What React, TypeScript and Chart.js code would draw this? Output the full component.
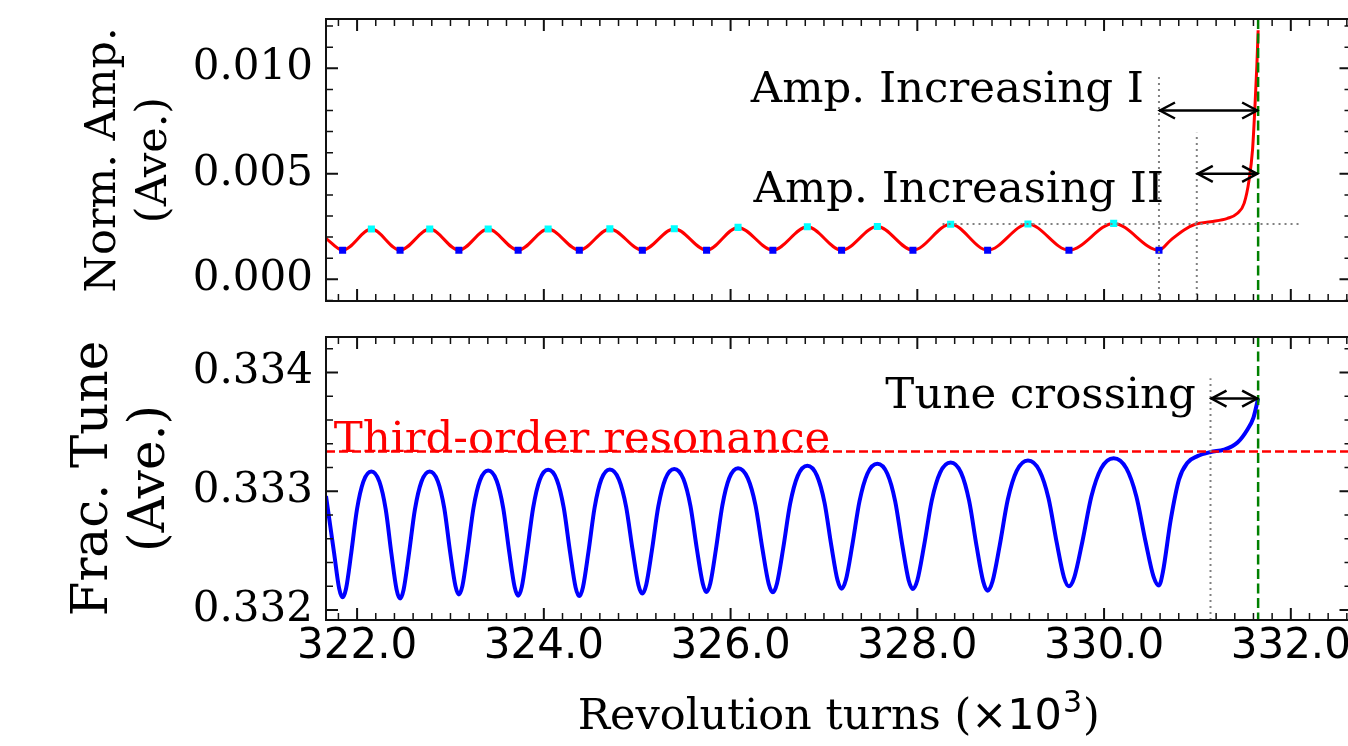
import React, { useEffect, useRef } from "react";
import { Chart, registerables } from "chart.js";

Chart.register(...registerables);

const SERIF = "'DejaVu Serif', serif";
const SANS = "'DejaVu Sans', sans-serif";

// ---------- data (turns in units of 10^3) ----------
const minTurns = [321.845, 322.46, 323.09, 323.725, 324.38, 325.055, 325.743, 326.453, 327.189, 327.953, 328.753, 329.624, 330.588];
const maxTurns = [322.153, 322.778, 323.404, 324.046, 324.707, 325.397, 326.08, 326.822, 327.572, 328.357, 329.185, 330.103];

// normalized amplitude (top panel)
const ampAtMin = [0.00138, 0.00138, 0.00138, 0.00138, 0.00138, 0.00138, 0.00138, 0.00138, 0.00138, 0.00138, 0.00138, 0.00138, 0.00138];
const ampAtMax = [0.00238, 0.00238, 0.00238, 0.00238, 0.00239, 0.0024, 0.00246, 0.00249, 0.0025, 0.00261, 0.00262, 0.00265];
const ampHeadTurns = [321.667];
const ampHeadValues = [0.00194];
const ampTailTurns = [330.714, 330.857, 330.982, 331.142, 331.322, 331.429, 331.5, 331.553, 331.59, 331.614, 331.636, 331.65];
const ampTailValues = [0.00186, 0.00234, 0.00262, 0.00273, 0.00289, 0.00313, 0.0036, 0.0047, 0.00613, 0.008, 0.01008, 0.0118];

// fractional tune (bottom panel)
const tuneTurns = [
  321.667, 321.754, 321.808, 321.845, 321.882, 321.937, 321.999, 322.067, 322.153,
  322.239, 322.307, 322.368, 322.423, 322.46, 322.498, 322.555, 322.619, 322.689, 322.778,
  322.865, 322.934, 322.996, 323.053, 323.09, 323.128, 323.184, 323.247, 323.316, 323.404,
  323.494, 323.565, 323.629, 323.687, 323.725, 323.764, 323.821, 323.886, 323.956, 324.046,
  324.14, 324.213, 324.28, 324.34, 324.38, 324.419, 324.478, 324.544, 324.615, 324.707,
  324.804, 324.881, 324.951, 325.013, 325.055, 325.096, 325.158, 325.226, 325.301, 325.397,
  325.494, 325.57, 325.639, 325.702, 325.743, 325.783, 325.844, 325.912, 325.986, 326.08,
  326.184, 326.267, 326.341, 326.408, 326.453, 326.497, 326.564, 326.638, 326.719, 326.822,
  326.925, 327.006, 327.079, 327.145, 327.189, 327.235, 327.304, 327.381, 327.465, 327.572,
  327.679, 327.763, 327.839, 327.907, 327.953, 328.001, 328.074, 328.155, 328.244, 328.357,
  328.468, 328.555, 328.634, 328.706, 328.753, 328.805, 328.883, 328.969, 329.064, 329.185,
  329.308, 329.405, 329.492, 329.571, 329.624, 329.681, 329.768, 329.864, 329.969, 330.103,
  330.239, 330.346, 330.443, 330.53, 330.588, 330.63, 330.714, 330.803, 330.893, 331.0,
  331.142, 331.285, 331.429, 331.536, 331.6, 331.65,
];
const tuneValues = [
  0.33296, 0.332478, 0.332181, 0.332107, 0.332181, 0.332478, 0.332848, 0.333081, 0.333166,
  0.33308, 0.332845, 0.332471, 0.332171, 0.332096, 0.332171, 0.332471, 0.332845, 0.33308, 0.333166,
  0.333083, 0.332855, 0.332493, 0.332203, 0.33213, 0.332203, 0.332495, 0.332861, 0.33309, 0.333174,
  0.33309, 0.332858, 0.33249, 0.332195, 0.332121, 0.332195, 0.332492, 0.332862, 0.333095, 0.33318,
  0.333095, 0.332861, 0.332489, 0.332191, 0.332117, 0.332192, 0.33249, 0.332863, 0.333098, 0.333183,
  0.333099, 0.33287, 0.332504, 0.332211, 0.332138, 0.332211, 0.332505, 0.332872, 0.333103, 0.333187,
  0.333104, 0.332876, 0.332514, 0.332224, 0.332151, 0.332224, 0.332516, 0.332881, 0.333111, 0.333194,
  0.33311, 0.332881, 0.332515, 0.332222, 0.332149, 0.332224, 0.332522, 0.332895, 0.333129, 0.333214,
  0.333131, 0.332904, 0.332542, 0.332252, 0.33218, 0.332254, 0.332548, 0.332916, 0.333147, 0.333231,
  0.333147, 0.332915, 0.332546, 0.332251, 0.332177, 0.332252, 0.33255, 0.332923, 0.333157, 0.333242,
  0.333156, 0.332918, 0.332541, 0.332239, 0.332163, 0.33224, 0.332547, 0.33293, 0.333171, 0.333259,
  0.333174, 0.332941, 0.332571, 0.332274, 0.3322, 0.332275, 0.332577, 0.332955, 0.333192, 0.333278,
  0.333192, 0.332956, 0.332581, 0.332281, 0.332206, 0.33232, 0.33276, 0.3331, 0.33324, 0.333295,
  0.33333, 0.33335, 0.33341, 0.33352, 0.33362, 0.33378,
];

// ticks
const xTickValues = [322, 324, 326, 328, 330, 332];
const ampTickValues = [0, 0.005, 0.01];
const tuneTickValues = [0.332, 0.333, 0.334];
const X_MINOR = 0.2;
const AMP_MINOR = 0.001;
const TUNE_MINOR = 0.0002;

// axis ranges
const X_RANGE = [321.667, 332.65];
const AMP_RANGE = [-0.001028, 0.012336];
const TUNE_RANGE = [0.331916, 0.334298];

// annotations (data coordinates)
const RESONANCE = 1 / 3;
const CROSSING_TURN = 331.65;
const AMP_I_START = 330.588;
const AMP_I_TOP = 0.00963;
const AMP_I_ARROW = 0.008;
const AMP_II_START = 330.993;
const AMP_II_TOP = 0.00695;
const AMP_II_ARROW = 0.005;
const AMP_LEVEL = 0.00262;
const AMP_LEVEL_SPAN = [328.27, 332.09];
const TUNE_START = 331.14;
const TUNE_TOP = 0.33395;
const TUNE_ARROW = 0.33378;
const LABEL_AMP_I = { text: "Amp. Increasing I", x: 330.428, y: 0.00842 };
const LABEL_AMP_II = { text: "Amp. Increasing II", x: 330.642, y: 0.00368 };
const LABEL_TUNE = { text: "Tune crossing", x: 330.982, y: 0.3337 };
const LABEL_RES = { text: "Third-order resonance", x: 321.75, y: RESONANCE };
const X_TITLE = ["Revolution turns (", "×10", "3", ")"];

// ---------- layout ----------
const CANVAS_W = 1362;
const PLOT_LEFT = 326;
const PLOT_RIGHT = 1351.5;
const TOP_H = 330;
const BOT_TOP = 310;
const BOT_H = 436;
const ANNO_FONT = 43.5;

function minorValues(min: number, max: number, step: number, majors: number[]) {
  const out: number[] = [];
  const s = Math.ceil(min / step - 1e-9);
  const e = Math.floor(max / step + 1e-9);
  for (let k = s; k <= e; k++) {
    const v = k * step;
    if (majors.some((m) => Math.abs(m - v) < step * 0.01)) continue;
    out.push(v);
  }
  return out;
}

function framePlugin(xMajors: number[], xMinor: number, yMajors: number[], yMinor: number) {
  return {
    id: "frame",
    afterDraw(chart: any) {
      const { ctx, chartArea: a, scales } = chart;
      const xs = scales.x;
      const ys = scales.y;
      ctx.save();
      ctx.strokeStyle = "#111";
      const drawX = (vals: number[], len: number, lw: number) => {
        ctx.lineWidth = lw;
        ctx.beginPath();
        vals.forEach((v) => {
          const p = xs.getPixelForValue(v);
          ctx.moveTo(p, a.bottom);
          ctx.lineTo(p, a.bottom - len);
          ctx.moveTo(p, a.top);
          ctx.lineTo(p, a.top + len);
        });
        ctx.stroke();
      };
      const drawY = (vals: number[], len: number, lw: number) => {
        ctx.lineWidth = lw;
        ctx.beginPath();
        vals.forEach((v) => {
          const p = ys.getPixelForValue(v);
          ctx.moveTo(a.left, p);
          ctx.lineTo(a.left + len, p);
          ctx.moveTo(a.right, p);
          ctx.lineTo(a.right - len, p);
        });
        ctx.stroke();
      };
      drawX(minorValues(xs.min, xs.max, xMinor, xMajors), 7, 1.5);
      drawY(minorValues(ys.min, ys.max, yMinor, yMajors), 7, 1.5);
      drawX(xMajors, 12, 2);
      drawY(yMajors, 12, 2);
      ctx.lineWidth = 2;
      ctx.strokeRect(a.left, a.top, a.right - a.left, a.bottom - a.top);
      ctx.restore();
    },
  };
}

function seg(ctx: any, x1: number, y1: number, x2: number, y2: number) {
  ctx.beginPath();
  ctx.moveTo(x1, y1);
  ctx.lineTo(x2, y2);
  ctx.stroke();
}

function dblArrow(ctx: any, x1: number, x2: number, y: number) {
  const hl = 16;
  const hw = 8;
  ctx.save();
  ctx.setLineDash([]);
  ctx.strokeStyle = "#000";
  ctx.lineWidth = 2.5;
  ctx.lineJoin = "miter";
  seg(ctx, x1, y, x2, y);
  ctx.beginPath();
  ctx.moveTo(x1 + hl, y - hw);
  ctx.lineTo(x1 + 1, y);
  ctx.lineTo(x1 + hl, y + hw);
  ctx.stroke();
  ctx.beginPath();
  ctx.moveTo(x2 - hl, y - hw);
  ctx.lineTo(x2 - 1, y);
  ctx.lineTo(x2 - hl, y + hw);
  ctx.stroke();
  ctx.restore();
}

const topAnnotations = {
  id: "topAnno",
  afterDatasetsDraw(chart: any) {
    const { ctx, chartArea: a, scales } = chart;
    const X = (v: number) => scales.x.getPixelForValue(v);
    const Y = (v: number) => scales.y.getPixelForValue(v);
    ctx.save();
    ctx.beginPath();
    ctx.rect(a.left, a.top, a.right - a.left, a.bottom - a.top);
    ctx.clip();
    ctx.strokeStyle = "#808080";
    ctx.lineWidth = 2;
    ctx.setLineDash([2, 4]);
    seg(ctx, X(AMP_I_START), a.bottom, X(AMP_I_START), Y(AMP_I_TOP));
    seg(ctx, X(AMP_II_START), a.bottom, X(AMP_II_START), Y(AMP_II_TOP));
    seg(ctx, X(AMP_LEVEL_SPAN[0]), Y(AMP_LEVEL), X(AMP_LEVEL_SPAN[1]), Y(AMP_LEVEL));
    ctx.strokeStyle = "#008000";
    ctx.lineWidth = 2.5;
    ctx.setLineDash([10, 4.5]);
    seg(ctx, X(CROSSING_TURN), a.top, X(CROSSING_TURN), a.bottom);
    dblArrow(ctx, X(AMP_I_START), X(CROSSING_TURN), Y(AMP_I_ARROW));
    dblArrow(ctx, X(AMP_II_START), X(CROSSING_TURN), Y(AMP_II_ARROW));
    ctx.setLineDash([]);
    ctx.fillStyle = "#000";
    ctx.font = `${ANNO_FONT}px ${SERIF}`;
    ctx.textAlign = "right";
    ctx.textBaseline = "alphabetic";
    ctx.fillText(LABEL_AMP_I.text, X(LABEL_AMP_I.x), Y(LABEL_AMP_I.y));
    ctx.fillText(LABEL_AMP_II.text, X(LABEL_AMP_II.x), Y(LABEL_AMP_II.y));
    ctx.restore();
  },
};

const bottomAnnotations = {
  id: "botAnno",
  afterDatasetsDraw(chart: any) {
    const { ctx, chartArea: a, scales } = chart;
    const X = (v: number) => scales.x.getPixelForValue(v);
    const Y = (v: number) => scales.y.getPixelForValue(v);
    ctx.save();
    ctx.beginPath();
    ctx.rect(a.left, a.top, a.right - a.left, a.bottom - a.top);
    ctx.clip();
    ctx.strokeStyle = "#ff0000";
    ctx.lineWidth = 2.5;
    ctx.setLineDash([9, 4]);
    seg(ctx, a.left, Y(RESONANCE), a.right, Y(RESONANCE));
    ctx.strokeStyle = "#808080";
    ctx.lineWidth = 2;
    ctx.setLineDash([2, 4]);
    seg(ctx, X(TUNE_START), a.bottom, X(TUNE_START), Y(TUNE_TOP));
    ctx.strokeStyle = "#008000";
    ctx.lineWidth = 2.5;
    ctx.setLineDash([10, 4.5]);
    seg(ctx, X(CROSSING_TURN), a.top, X(CROSSING_TURN), a.bottom);
    dblArrow(ctx, X(TUNE_START), X(CROSSING_TURN), Y(TUNE_ARROW));
    ctx.setLineDash([]);
    ctx.font = `${ANNO_FONT}px ${SERIF}`;
    ctx.textBaseline = "alphabetic";
    ctx.fillStyle = "#000";
    ctx.textAlign = "right";
    ctx.fillText(LABEL_TUNE.text, X(LABEL_TUNE.x), Y(LABEL_TUNE.y));
    ctx.fillStyle = "#ff0000";
    ctx.textAlign = "left";
    ctx.fillText(LABEL_RES.text, X(LABEL_RES.x), Y(LABEL_RES.y));
    ctx.restore();

    // x-axis title with math part in sans font
    const a2 = chart.chartArea;
    ctx.save();
    ctx.fillStyle = "#000";
    ctx.textBaseline = "alphabetic";
    ctx.textAlign = "left";
    const fSerif = `43px ${SERIF}`;
    const fSans = `43px ${SANS}`;
    const fSup = `30px ${SANS}`;
    ctx.font = fSerif;
    const w0 = ctx.measureText(X_TITLE[0]).width;
    const w3 = ctx.measureText(X_TITLE[3]).width;
    ctx.font = fSans;
    const w1 = ctx.measureText(X_TITLE[1]).width;
    ctx.font = fSup;
    const w2 = ctx.measureText(X_TITLE[2]).width + 2;
    const total = w0 + w1 + w2 + w3;
    let x = (a2.left + a2.right) / 2 - total / 2;
    const base = chart.height - 17;
    ctx.font = fSerif;
    ctx.fillText(X_TITLE[0], x, base);
    x += w0;
    ctx.font = fSans;
    ctx.fillText(X_TITLE[1], x, base);
    x += w1 + 1;
    ctx.font = fSup;
    ctx.fillText(X_TITLE[2], x, base - 17);
    x += w2 - 1;
    ctx.font = fSerif;
    ctx.fillText(X_TITLE[3], x, base);
    ctx.restore();
  },
};

const setTicks = (vals: number[]) => (scale: any) => {
  scale.ticks = vals.map((v) => ({ value: v }));
};

const zeroPad = (s: any) => {
  s.paddingTop = 0;
  s.paddingBottom = 0;
  s.paddingLeft = 0;
  s.paddingRight = 0;
};

function baseX(showLabels: boolean, height: number) {
  return {
    type: "linear",
    min: X_RANGE[0],
    max: X_RANGE[1],
    grid: { display: false, drawTicks: false },
    border: { display: false },
    afterBuildTicks: setTicks(xTickValues),
    afterFit: (s: any) => {
      s.height = height;
      zeroPad(s);
    },
    ticks: {
      display: showLabels,
      autoSkip: false,
      maxRotation: 0,
      minRotation: 0,
      padding: 2,
      color: "#000",
      font: { family: SANS, size: 42, lineHeight: 1.2 },
      callback: (v: any) => Number(v).toFixed(1),
    },
    title: { display: false, text: X_TITLE.join("") },
  };
}

function yAxis(range: number[], ticks: number[], title: string[], size: number, lh: number, titlePad: number) {
  return {
    type: "linear",
    min: range[0],
    max: range[1],
    grid: { display: false, drawTicks: false },
    border: { display: false },
    afterBuildTicks: setTicks(ticks),
    afterFit: (s: any) => {
      s.width = PLOT_LEFT;
      zeroPad(s);
    },
    ticks: {
      padding: 13,
      color: "#000",
      font: { family: SERIF, size: 42 },
      callback: (v: any) => Number(v).toFixed(3),
    },
    title: {
      display: true,
      text: title,
      color: "#000",
      font: { family: SERIF, size, lineHeight: lh },
      padding: { top: titlePad, bottom: 0 },
    },
  };
}

export default function App() {
  const topRef = useRef<HTMLCanvasElement>(null);
  const botRef = useRef<HTMLCanvasElement>(null);

  useEffect(() => {
    const ampLine: any[] = [{ x: ampHeadTurns[0], y: ampHeadValues[0] }];
    minTurns.forEach((t, i) => {
      ampLine.push({ x: t, y: ampAtMin[i] });
      if (i < maxTurns.length) ampLine.push({ x: maxTurns[i], y: ampAtMax[i] });
    });
    ampTailTurns.forEach((t, i) => ampLine.push({ x: t, y: ampTailValues[i] }));

    const top = new Chart(topRef.current as any, {
      type: "line",
      data: {
        datasets: [
          {
            data: minTurns.map((t, i) => ({ x: t, y: ampAtMin[i] })),
            showLine: false,
            pointStyle: "rect",
            pointRadius: 5,
            pointBackgroundColor: "#0000ff",
            pointBorderWidth: 0,
            borderColor: "#0000ff",
          },
          {
            data: maxTurns.map((t, i) => ({ x: t, y: ampAtMax[i] })),
            showLine: false,
            pointStyle: "rect",
            pointRadius: 5,
            pointBackgroundColor: "#00ffff",
            pointBorderWidth: 0,
            borderColor: "#00ffff",
          },
          {
            data: ampLine,
            borderColor: "#ff0000",
            borderWidth: 3,
            pointRadius: 0,
            fill: false,
            cubicInterpolationMode: "monotone",
          },
        ],
      },
      options: {
        responsive: false,
        animation: false,
        devicePixelRatio: 1,
        layout: { padding: { left: 0, right: CANVAS_W - PLOT_RIGHT, top: 19, bottom: 0 } },
        plugins: { legend: { display: false }, tooltip: { enabled: false } },
        scales: {
          x: baseX(false, TOP_H - 301),
          y: yAxis(AMP_RANGE, ampTickValues, ["Norm. Amp.", "(Ave.)"], 43, 1.2, 77.6),
        },
      } as any,
      plugins: [topAnnotations, framePlugin(xTickValues, X_MINOR, ampTickValues, AMP_MINOR)],
    } as any);

    const bottom = new Chart(botRef.current as any, {
      type: "line",
      data: {
        datasets: [
          {
            data: tuneTurns.map((t, i) => ({ x: t, y: tuneValues[i] })),
            borderColor: "#0000ff",
            borderWidth: 4,
            pointRadius: 0,
            fill: false,
            cubicInterpolationMode: "monotone",
          },
        ],
      },
      options: {
        responsive: false,
        animation: false,
        devicePixelRatio: 1,
        layout: { padding: { left: 0, right: CANVAS_W - PLOT_RIGHT, top: 27, bottom: 0 } },
        plugins: { legend: { display: false }, tooltip: { enabled: false } },
        scales: {
          x: baseX(true, BOT_H - 310),
          y: yAxis(TUNE_RANGE, tuneTickValues, ["Frac. Tune", "(Ave.)"], 50, 1.13, 66),
        },
      } as any,
      plugins: [bottomAnnotations, framePlugin(xTickValues, X_MINOR, tuneTickValues, TUNE_MINOR)],
    } as any);

    return () => {
      top.destroy();
      bottom.destroy();
    };
  }, []);

  return (
    <div
      style={{
        position: "absolute",
        left: 0,
        top: 0,
        width: 1348,
        height: 746,
        overflow: "hidden",
        background: "#ffffff",
      }}
    >
      <canvas
        ref={topRef}
        width={CANVAS_W}
        height={TOP_H}
        style={{ position: "absolute", left: 0, top: 0, width: CANVAS_W, height: TOP_H }}
      />
      <canvas
        ref={botRef}
        width={CANVAS_W}
        height={BOT_H}
        style={{ position: "absolute", left: 0, top: BOT_TOP, width: CANVAS_W, height: BOT_H }}
      />
    </div>
  );
}
